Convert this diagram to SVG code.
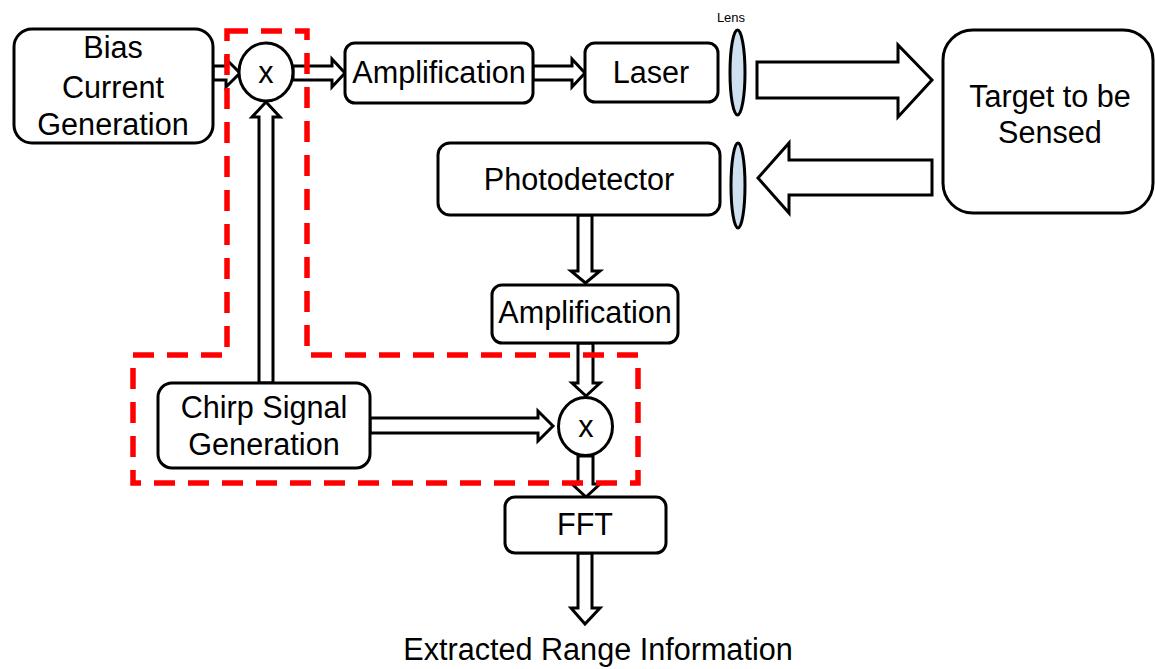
<svg xmlns="http://www.w3.org/2000/svg" width="1155" height="669" viewBox="0 0 1155 669">
<style>
.box{fill:#fff;stroke:#000;stroke-width:3}
.arr{fill:#fff;stroke:#000;stroke-width:3;stroke-linejoin:miter}
.lens{fill:#cfe0f1;stroke:#000;stroke-width:3}
.lbl{font-family:"Liberation Sans",Arial,sans-serif;font-size:30.6px;fill:#000;text-anchor:middle}
.dash{fill:none;stroke:#ff0000;stroke-width:5.5;stroke-dasharray:21 13}
</style>
<rect width="1155" height="669" fill="#fff"/>
<g id="connectors">
<polygon class="arr" points="213,66 226,66 226,59 240,73 226,87 226,80 213,80"/>
<polygon class="arr" points="293,66 332,66 332,59 345,73 332,87 332,80 293,80"/>
<polygon class="arr" points="533,66 572,66 572,59 585,73 572,87 572,80 533,80"/>
<polygon class="arr" points="259,383 259,117 252,117 266,102 280,117 273,117 273,383"/>
<polygon class="arr" points="578,215 578,271 571,271 585.5,283 600,271 592,271 592,215"/>
<polygon class="arr" points="578,343 578,383 572,383 586,396 600,383 593,383 593,343"/>
<polygon class="arr" points="370,418 538,418 538,411 553,426 538,441 538,433 370,433"/>
<polygon class="arr" points="578,456 578,484 572,484 586,497 600,484 593,484 593,456"/>
<polygon class="arr" points="578,553 578,608 571,608 585,624 600,608 592,608 592,553"/>
<polygon class="arr" points="757,62 898,62 898,45 932,80 898,117 898,98 757,98"/>
<polygon class="arr" points="932,160 789,160 789,143 758,178 789,213 789,195 932,195"/>
</g>
<g id="bias"><rect class="box" x="14" y="29" width="199" height="114" rx="18"/>
<text class="lbl" x="113" y="58">Bias</text><text class="lbl" x="113" y="98">Current</text><text class="lbl" x="113" y="135">Generation</text></g>
<g id="mixer1"><ellipse class="box" cx="266" cy="72" rx="27" ry="29"/><text class="lbl" x="266" y="83">x</text></g>
<g id="amp1"><rect class="box" x="345" y="43" width="188" height="60" rx="10"/><text class="lbl" x="439" y="83">Amplification</text></g>
<g id="laser"><rect class="box" x="585" y="43" width="133" height="59" rx="10"/><text class="lbl" x="651" y="83">Laser</text></g>
<g id="lens1"><ellipse class="lens" cx="737.5" cy="72.5" rx="7.5" ry="42.5"/>
<text x="731" y="22" style="font-family:'Liberation Sans',Arial,sans-serif;font-size:13px;text-anchor:middle">Lens</text></g>
<g id="lens2"><ellipse class="lens" cx="738" cy="185.5" rx="7" ry="42.5"/></g>
<g id="target"><rect class="box" x="943" y="30" width="210" height="183" rx="30"/>
<text class="lbl" x="1050" y="107">Target to be</text><text class="lbl" x="1050" y="143">Sensed</text></g>
<g id="photodetector"><rect class="box" x="438" y="143" width="282" height="72" rx="12"/><text class="lbl" x="579" y="190">Photodetector</text></g>
<g id="amp2"><rect class="box" x="492" y="285" width="186" height="58" rx="10"/><text class="lbl" x="585" y="323">Amplification</text></g>
<g id="chirp"><rect class="box" x="158" y="383" width="212" height="85" rx="14"/>
<text class="lbl" x="264" y="418">Chirp Signal</text><text class="lbl" x="264" y="455">Generation</text></g>
<g id="mixer2"><ellipse class="box" cx="585.5" cy="426.5" rx="27" ry="29"/><text class="lbl" x="586" y="437">x</text></g>
<g id="fft"><rect class="box" x="505" y="497" width="161" height="56" rx="10"/><text class="lbl" x="585" y="535">FFT</text></g>
<g id="output"><text class="lbl" x="598" y="660">Extracted Range Information</text></g>
<g id="region"><path class="dash" d="M227,31 H307 V355 H638 V483 H133 V355 H227 Z"/></g>
</svg>
